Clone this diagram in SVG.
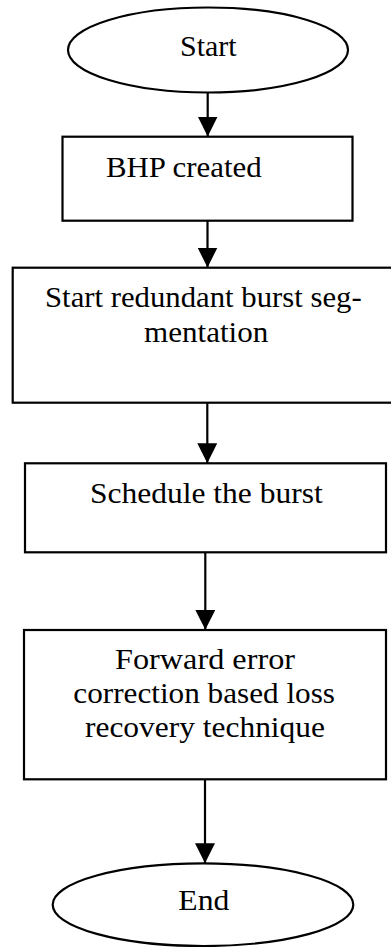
<svg xmlns="http://www.w3.org/2000/svg" width="391" height="947" viewBox="0 0 391 947">
<style>
.s{fill:#fff;stroke:#000;stroke-width:2.2}
.t{font-family:"Liberation Serif","Times New Roman","DejaVu Serif",serif;font-size:29px;fill:#000}
.c{stroke:#000;stroke-width:2.2;fill:none}
</style>
<defs>
<marker id="ah" markerUnits="userSpaceOnUse" markerWidth="20" markerHeight="20" refX="20" refY="10" orient="auto" viewBox="0 0 20 20">
<path d="M0,0 L20,10 L0,20 Z" fill="#000"/>
</marker>
</defs>
<rect width="391" height="947" fill="#fff"/>
<g id="connectors">
<line class="c" x1="207.7" y1="92.7" x2="207.7" y2="136.5" marker-end="url(#ah)"/>
<line class="c" x1="207.5" y1="220.7" x2="207.5" y2="267.5" marker-end="url(#ah)"/>
<line class="c" x1="207.3" y1="402.7" x2="207.3" y2="463.2" marker-end="url(#ah)"/>
<line class="c" x1="205.3" y1="552.3" x2="205.3" y2="629.8" marker-end="url(#ah)"/>
<line class="c" x1="205" y1="779.3" x2="205" y2="863.3" marker-end="url(#ah)"/>
</g>
<g id="start">
<ellipse class="s" cx="208" cy="50" rx="140" ry="42.5"/>
<text class="t" x="180" y="56" textLength="56.7" lengthAdjust="spacingAndGlyphs">Start</text>
</g>
<g id="bhp">
<rect class="s" x="62.5" y="136.7" width="290" height="84"/>
<text class="t" x="106" y="176.5" textLength="155.7" lengthAdjust="spacingAndGlyphs">BHP created</text>
</g>
<g id="segmentation">
<rect class="s" x="12.7" y="267.7" width="390" height="135"/>
<text class="t" x="45" y="307.3" textLength="316.7" lengthAdjust="spacingAndGlyphs">Start redundant burst seg-</text>
<text class="t" x="144" y="341.7" textLength="124.3" lengthAdjust="spacingAndGlyphs">mentation</text>
</g>
<g id="schedule">
<rect class="s" x="25" y="463.3" width="361" height="89"/>
<text class="t" x="90" y="502.7" textLength="232.7" lengthAdjust="spacingAndGlyphs">Schedule the burst</text>
</g>
<g id="fec">
<rect class="s" x="24" y="630" width="362" height="149.3"/>
<text class="t" x="115" y="669.3" textLength="180" lengthAdjust="spacingAndGlyphs">Forward error</text>
<text class="t" x="73.3" y="703.3" textLength="261.7" lengthAdjust="spacingAndGlyphs">correction based loss</text>
<text class="t" x="85" y="737.3" textLength="240" lengthAdjust="spacingAndGlyphs">recovery technique</text>
</g>
<g id="end">
<ellipse class="s" cx="203" cy="904.7" rx="150.3" ry="41.3"/>
<text class="t" x="178.3" y="910" textLength="51" lengthAdjust="spacingAndGlyphs">End</text>
</g>
</svg>
